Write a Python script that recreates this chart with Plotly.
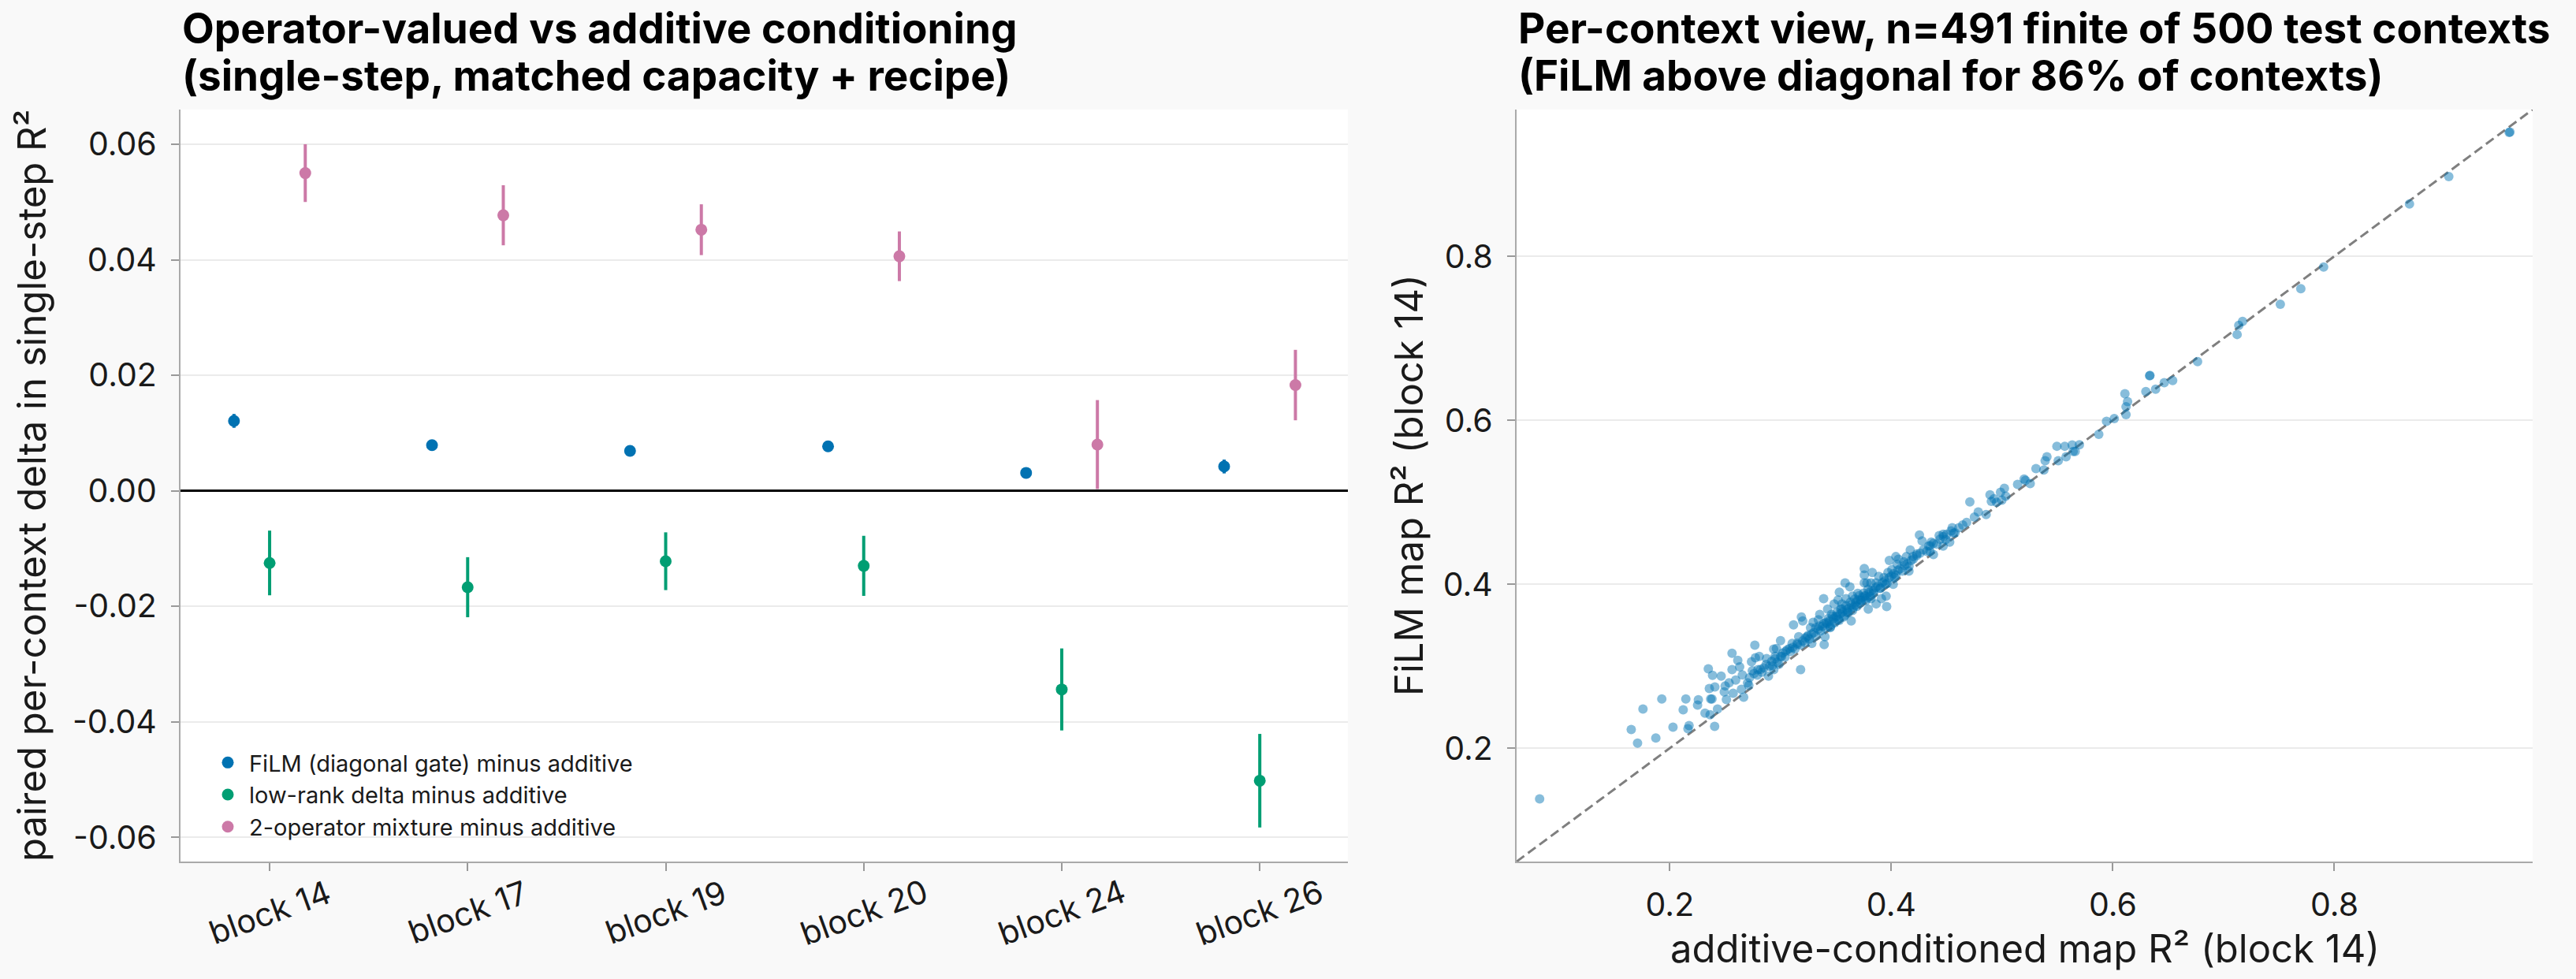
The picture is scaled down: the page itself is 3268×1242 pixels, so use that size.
import plotly.graph_objects as go

# ---------------- data ----------------
categories = ["block 14", "block 17", "block 19", "block 20", "block 24", "block 26"]
film_delta = [0.0121, 0.0079, 0.0069, 0.0077, 0.0031, 0.0042]
film_err = [0.0012, 0.0009, 0.0009, 0.0009, 0.0009, 0.0012]
lowrank_delta = [-0.0125, -0.0167, -0.0122, -0.0130, -0.0344, -0.0502]
lowrank_err = [0.0056, 0.0052, 0.0050, 0.0052, 0.0071, 0.0081]
mixture_delta = [0.0550, 0.0477, 0.0452, 0.0406, 0.0080, 0.0183]
mixture_err = [0.0050, 0.0052, 0.0044, 0.0043, 0.0077, 0.0061]

series_names = ["FiLM (diagonal gate) minus additive",
                "low-rank delta minus additive",
                "2-operator mixture minus additive"]

# per-context scatter: additive-conditioned R² (x) vs FiLM R² (y), block 14
add_r2 = [
    0.0825, 0.1652, 0.1709, 0.1758, 0.1874, 0.1928, 0.2029, 0.2121, 0.2145, 0.2164,
    0.2174, 0.2251, 0.2258, 0.2318, 0.2348, 0.2364, 0.2369, 0.2381, 0.2386, 0.2405,
    0.2357, 0.2407, 0.2431, 0.2464, 0.2492, 0.2511, 0.2500, 0.2535, 0.2562, 0.2562,
    0.2572, 0.2595, 0.2614, 0.2631, 0.2647, 0.2655, 0.2667, 0.2702, 0.2714, 0.2738,
    0.2745, 0.2768, 0.2773, 0.2796, 0.2808, 0.2832, 0.2874, 0.2891, 0.2927, 0.2938,
    0.3000, 0.2963, 0.2951, 0.3010, 0.2986, 0.2939, 0.3046, 0.3081, 0.3117, 0.3105,
    0.3152, 0.3181, 0.3188, 0.3164, 0.3200, 0.3223, 0.3247, 0.3271, 0.3282, 0.3294,
    0.3318, 0.3342, 0.3354, 0.3389, 0.3394, 0.3401, 0.3413, 0.3425, 0.3448, 0.3460,
    0.3484, 0.3508, 0.3519, 0.3531, 0.3543, 0.3555, 0.3583, 0.3591, 0.3602, 0.3626,
    0.3638, 0.3650, 0.3673, 0.3697, 0.3721, 0.3756, 0.3756, 0.3756, 0.3768, 0.3780,
    0.4254, 0.4278, 0.4337, 0.4361, 0.4349, 0.4380, 0.4432, 0.4468, 0.4491, 0.4468,
    0.4527, 0.4550, 0.4562, 0.4171, 0.4230, 0.4195, 0.4136, 0.4159, 0.4112, 0.4064,
    0.4041, 0.4053, 0.3982, 0.4005, 0.4029, 0.3970, 0.3934, 0.3946, 0.4017, 0.3953,
    0.3887, 0.3863, 0.3828, 0.3816, 0.3899, 0.3839, 0.3911, 0.3863, 0.3958, 0.3816,
    0.3792, 0.4575, 0.4610, 0.4645, 0.4680, 0.4750, 0.4785, 0.4856, 0.4709, 0.4891,
    0.4927, 0.4986, 0.5021, 0.5033, 0.5140, 0.5199, 0.5211, 0.5254, 0.5306, 0.5377,
    0.5389, 0.5405, 0.5495, 0.5507, 0.5566, 0.5578, 0.5633, 0.5642, 0.4903, 0.4950,
    0.4998, 0.5660, 0.5698, 0.5873, 0.5943, 0.6013, 0.6119, 0.6119, 0.6133, 0.6109,
    0.6298, 0.6332, 0.6335, 0.6386, 0.6464, 0.6540, 0.6765, 0.7122, 0.7137, 0.7171,
    0.7512, 0.7697, 0.7903, 0.8678, 0.9033, 0.9578, 0.9585,
    0.272, 0.276, 0.279, 0.282, 0.285, 0.287, 0.290, 0.292, 0.295, 0.297,
    0.300, 0.302, 0.304, 0.306, 0.309, 0.311, 0.313, 0.315, 0.318, 0.320,
    0.322, 0.324, 0.326, 0.328, 0.330, 0.332, 0.334, 0.336, 0.338, 0.340,
    0.342, 0.344, 0.346, 0.348, 0.350, 0.352, 0.354, 0.356, 0.358, 0.360,
    0.362, 0.364, 0.366, 0.368, 0.370, 0.372, 0.374, 0.376, 0.378, 0.380,
    0.382, 0.384, 0.386, 0.388, 0.390, 0.392, 0.394, 0.396, 0.398, 0.400,
    0.402, 0.404, 0.406, 0.408, 0.410, 0.412, 0.414, 0.416, 0.418, 0.420,
    0.423, 0.426, 0.429, 0.432, 0.435, 0.438, 0.441, 0.444, 0.447, 0.450,
    0.454, 0.335, 0.339, 0.343, 0.347, 0.351, 0.355, 0.359, 0.363, 0.367,
    0.371, 0.375, 0.379, 0.345, 0.349, 0.353, 0.357, 0.361, 0.365, 0.369,
    0.373, 0.377, 0.381,
]
film_r2 = [
    0.1382, 0.2228, 0.2062, 0.2478, 0.2125, 0.2600, 0.2257, 0.2468, 0.2600, 0.2238,
    0.2276, 0.2526, 0.2590, 0.2427, 0.2968, 0.2408, 0.2600, 0.2600, 0.2888, 0.2266,
    0.2728, 0.2747, 0.2478, 0.2878, 0.2686, 0.2593, 0.2760, 0.2798, 0.3158, 0.2959,
    0.2670, 0.2830, 0.3071, 0.2991, 0.2718, 0.2894, 0.2622, 0.2798, 0.2766, 0.3055,
    0.2943, 0.3257, 0.3103, 0.2959, 0.3119, 0.2927, 0.3093, 0.2878, 0.3007, 0.3209,
    0.3311, 0.3215, 0.3119, 0.3119, 0.3023, 0.2959, 0.3183, 0.3215, 0.3503, 0.3279,
    0.3263, 0.2959, 0.3600, 0.3359, 0.3551, 0.3343, 0.3375, 0.3471, 0.3279, 0.3535,
    0.3471, 0.3567, 0.3632, 0.3824, 0.3263, 0.3359, 0.3535, 0.3696, 0.3471, 0.3632,
    0.3760, 0.3600, 0.3808, 0.3904, 0.3696, 0.3760, 0.4016, 0.3824, 0.3664, 0.3968,
    0.3551, 0.3856, 0.3744, 0.3888, 0.3808, 0.4192, 0.4112, 0.4016, 0.3856, 0.4016,
    0.4600, 0.4529, 0.4465, 0.4513, 0.4401, 0.4362, 0.4593, 0.4609, 0.4545, 0.4465,
    0.4513, 0.4689, 0.4625, 0.4417, 0.4369, 0.4337, 0.4337, 0.4160, 0.4273, 0.4305,
    0.4337, 0.4241, 0.4289, 0.4177, 0.4080, 0.4144, 0.4080, 0.4000, 0.4000, 0.3856,
    0.4096, 0.4016, 0.4144, 0.4016, 0.3952, 0.3920, 0.3824, 0.3760, 0.3728, 0.3824,
    0.3696, 0.4626, 0.4690, 0.4722, 0.4754, 0.4818, 0.4882, 0.4850, 0.5003, 0.5090,
    0.5042, 0.5122, 0.5170, 0.5074, 0.5218, 0.5282, 0.5266, 0.5228, 0.5410, 0.5394,
    0.5506, 0.5555, 0.5683, 0.5506, 0.5683, 0.5555, 0.5699, 0.5619, 0.5010, 0.5000,
    0.5026, 0.5620, 0.5700, 0.5828, 0.5988, 0.6020, 0.6068, 0.6164, 0.6228, 0.6324,
    0.6350, 0.6542, 0.6548, 0.6379, 0.6459, 0.6484, 0.6715, 0.7046, 0.7158, 0.7206,
    0.7414, 0.7606, 0.7869, 0.8638, 0.8972, 0.9510, 0.9515,
    0.286, 0.291, 0.289, 0.296, 0.298, 0.302, 0.300, 0.306, 0.309, 0.305,
    0.312, 0.316, 0.311, 0.320, 0.318, 0.323, 0.321, 0.328, 0.326, 0.331,
    0.329, 0.336, 0.333, 0.339, 0.341, 0.337, 0.345, 0.343, 0.349, 0.347,
    0.352, 0.355, 0.351, 0.358, 0.361, 0.357, 0.364, 0.366, 0.362, 0.369,
    0.371, 0.375, 0.372, 0.378, 0.381, 0.377, 0.384, 0.386, 0.383, 0.390,
    0.392, 0.389, 0.396, 0.398, 0.395, 0.402, 0.404, 0.401, 0.408, 0.410,
    0.413, 0.411, 0.417, 0.419, 0.416, 0.423, 0.425, 0.422, 0.429, 0.431,
    0.435, 0.438, 0.442, 0.440, 0.447, 0.450, 0.449, 0.455, 0.458, 0.461,
    0.465, 0.349, 0.352, 0.358, 0.361, 0.366, 0.370, 0.374, 0.378, 0.382,
    0.386, 0.389, 0.394, 0.348, 0.353, 0.356, 0.360, 0.365, 0.368, 0.373,
    0.380, 0.380, 0.385,
]

left_title = ["Operator-valued vs additive conditioning",
              "(single-step, matched capacity + recipe)"]
right_title = ["Per-context view, n=491 finite of 500 test contexts",
               "(FiLM above diagonal for 86% of contexts)"]
left_ylabel = "paired per-context delta in single-step R²"
right_xlabel = "additive-conditioned map R² (block 14)"
right_ylabel = "FiLM map R² (block 14)"

# ---------------- styling ----------------
W, H = 3268, 1242
FONT = "Inter"
colors = ["#0072B2", "#009E73", "#CC79A7"]
offsets = [-0.18, 0.0, 0.18]
BG = "#f9f9f9"
INK = "#1a1a1a"

fig = go.Figure()

idx = list(range(len(categories)))
for name, vals, errs, col, off in zip(series_names,
                                      [film_delta, lowrank_delta, mixture_delta],
                                      [film_err, lowrank_err, mixture_err],
                                      colors, offsets):
    fig.add_trace(go.Scatter(
        x=[i + off for i in idx], y=vals, mode="markers", name=name,
        marker=dict(color=col, size=15),
        error_y=dict(type="data", array=errs, color=col, thickness=4, width=0),
        xaxis="x", yaxis="y",
    ))

lo, hi = 0.0617, 0.979
fig.add_trace(go.Scatter(
    x=[lo, hi], y=[lo, hi], mode="lines", showlegend=False,
    line=dict(color="#7f7f7f", width=3, dash="12px,6px"),
    xaxis="x2", yaxis="y2", hoverinfo="skip",
))
fig.add_trace(go.Scatter(
    x=add_r2, y=film_r2, mode="markers", showlegend=False,
    marker=dict(color="#0072B2", size=12, opacity=0.47, line=dict(width=0)),
    xaxis="x2", yaxis="y2",
))

ax_common = dict(
    showline=True, linecolor="#aaaaaa", linewidth=2, mirror=False,
    ticks="outside", ticklen=10, tickwidth=1.5, tickcolor="#999999",
    tickfont=dict(family=FONT, size=41, color=INK),
)

y_dom = [1 - 1093 / H, 1 - 139 / H]
fig.update_layout(
    width=W, height=H, autosize=False,
    margin=dict(l=0, r=0, t=0, b=0),
    paper_bgcolor=BG, plot_bgcolor="white",
    font=dict(family=FONT, color=INK),
    xaxis=dict(domain=[229 / W, 1710 / W], range=[-0.45, 5.445],
               tickmode="array", tickvals=idx, showticklabels=False,
               showgrid=False, zeroline=False, **ax_common),
    yaxis=dict(domain=y_dom, range=[-0.0642, 0.066],
               tickmode="array", tickvals=[-0.06, -0.04, -0.02, 0.0, 0.02, 0.04, 0.06],
               ticktext=["-0.06", "-0.04", "-0.02", "0.00", "0.02", "0.04", "0.06"],
               showgrid=True, gridcolor="#ebebeb", gridwidth=1.5,
               zeroline=True, zerolinecolor="black", zerolinewidth=3,
               ticklabelstandoff=10, **ax_common),
    xaxis2=dict(domain=[1924 / W, 3213 / W], range=[lo, hi], anchor="y2",
                tickmode="array", tickvals=[0.2, 0.4, 0.6, 0.8],
                showgrid=False, zeroline=False, ticklabelstandoff=8, **ax_common),
    yaxis2=dict(domain=y_dom, range=[lo, hi], anchor="x2",
                tickmode="array", tickvals=[0.2, 0.4, 0.6, 0.8],
                showgrid=True, gridcolor="#ebebeb", gridwidth=1.5,
                zeroline=False, ticklabelstandoff=10, **ax_common),
    legend=dict(x=262 / W, y=1 - 942 / H, xanchor="left", yanchor="top",
                bgcolor="rgba(255,255,255,0)", borderwidth=0,
                font=dict(family=FONT, size=29, color=INK),
                tracegroupgap=0, itemwidth=44),
    showlegend=True,
)

annotations = []
# titles
for j, line in enumerate(left_title):
    annotations.append(dict(text=line, x=229 / W, y=1 - (36 + 60 * j) / H,
                            xref="paper", yref="paper", xanchor="left", yanchor="middle",
                            showarrow=False,
                            font=dict(family=FONT, size=53, color="black", weight=700)))
for j, line in enumerate(right_title):
    annotations.append(dict(text=line, x=1924 / W, y=1 - (36 + 60 * j) / H,
                            xref="paper", yref="paper", xanchor="left", yanchor="middle",
                            showarrow=False,
                            font=dict(family=FONT, size=53, color="black", weight=700)))
# category labels (rotated, centred under ticks)
for i, cat in enumerate(categories):
    annotations.append(dict(text=cat, x=i, y=1 - 1157 / H, xref="x", yref="paper",
                            xanchor="center", yanchor="middle", textangle=-20,
                            showarrow=False, font=dict(family=FONT, size=41, color=INK)))
# axis titles
annotations.append(dict(text=left_ylabel, x=40 / W, y=(y_dom[0] + y_dom[1]) / 2,
                        xref="paper", yref="paper", xanchor="center", yanchor="middle",
                        textangle=-90, showarrow=False,
                        font=dict(family=FONT, size=49, color=INK)))
annotations.append(dict(text=right_ylabel, x=1787 / W, y=(y_dom[0] + y_dom[1]) / 2,
                        xref="paper", yref="paper", xanchor="center", yanchor="middle",
                        textangle=-90, showarrow=False,
                        font=dict(family=FONT, size=49, color=INK)))
annotations.append(dict(text=right_xlabel, x=(1924 + 3213) / 2 / W, y=1 - 1203 / H,
                        xref="paper", yref="paper", xanchor="center", yanchor="middle",
                        showarrow=False,
                        font=dict(family=FONT, size=49, color=INK)))
fig.update_layout(annotations=annotations)

fig.write_html("out.html")
